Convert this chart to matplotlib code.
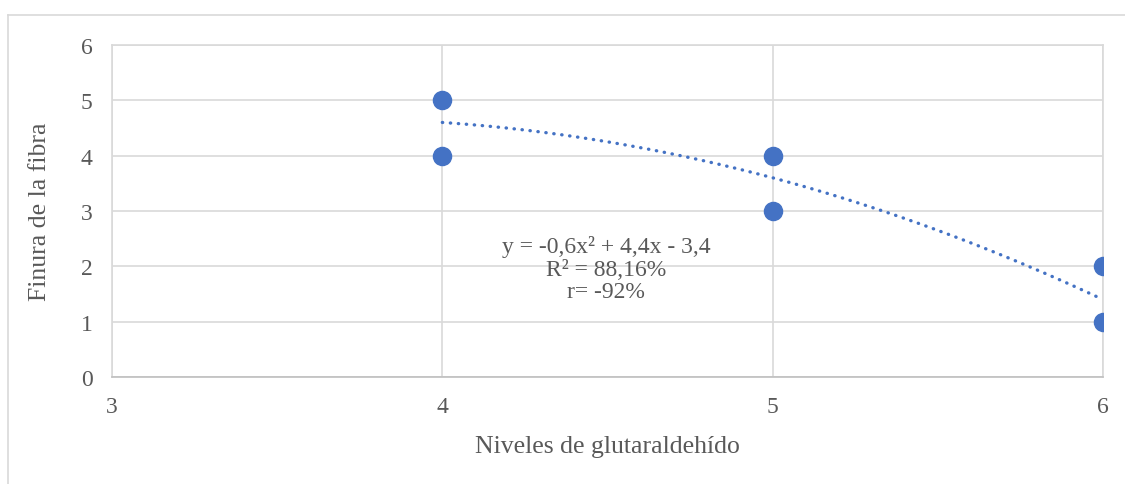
import numpy as np
import matplotlib.pyplot as plt
from matplotlib.lines import Line2D

plt.rcParams["font.family"] = ["Liberation Serif", "DejaVu Serif"]

# data
niveles = [4, 4, 5, 5, 6, 6]
finura = [5, 4, 4, 3, 2, 1]
# polynomial trendline coefficients shown on the chart (a, b, c)
coef = [-0.6, 4.4, -3.4]
x_ticks = [3, 4, 5, 6]
y_ticks = [0, 1, 2, 3, 4, 5, 6]
eq_lines = ["y = -0,6x² + 4,4x - 3,4", "R² = 88,16%", "r= -92%"]

blue = "#4472C4"
grey_txt = "#595959"
grid_c = "#D9D9D9"

fig = plt.figure(figsize=(11.25, 4.85), dpi=100)
ax = fig.add_axes([0.0996, 0.2206, 0.8808, 0.6846])

# outer chart border (only top and left visible)
fig.add_artist(Line2D([8 / 1125, 1], [1 - 16 / 485] * 2, color=grid_c, lw=1.2))
fig.add_artist(Line2D([8 / 1125] * 2, [0, 1 - 16 / 485], color=grid_c, lw=1.2))

ax.grid(True, color=grid_c, lw=1.2)
ax.set_axisbelow(True)
for s in ax.spines.values():
    s.set_color(grid_c)
    s.set_linewidth(1.2)
ax.spines["bottom"].set_color("#BFBFBF")

# dotted polynomial trendline (order 2)
xs = np.linspace(4, 6, 100)
ax.plot(xs, np.polyval(coef, xs), color=blue, lw=2.4, ls=(0, (0.1, 2.3)),
        dash_capstyle="round", zorder=2)
ax.scatter(niveles, finura, s=170, color=blue, zorder=3)

ax.set_xlim(3, 6)
ax.set_ylim(0, 6)
ax.set_xticks(x_ticks)
ax.set_yticks(y_ticks)
ax.tick_params(length=0, labelsize=17, labelcolor=grey_txt, pad=14)

ax.set_xlabel("Niveles de glutaraldehído", fontsize=18.5, color=grey_txt)
ax.set_ylabel("Finura de la fibra", fontsize=18.5, color=grey_txt)
ax.xaxis.set_label_coords(0.4995, -0.208)
ax.xaxis.label.set_va("center")
ax.yaxis.set_label_coords(-0.0727, 0.5)
ax.yaxis.label.set_va("center")

eq_y = [2.37, 1.95, 1.54]
for t, yy in zip(eq_lines, eq_y):
    ax.text(4.496, yy, t, ha="center", va="center", fontsize=17, color=grey_txt)

fig.savefig("out.png", dpi=100)
